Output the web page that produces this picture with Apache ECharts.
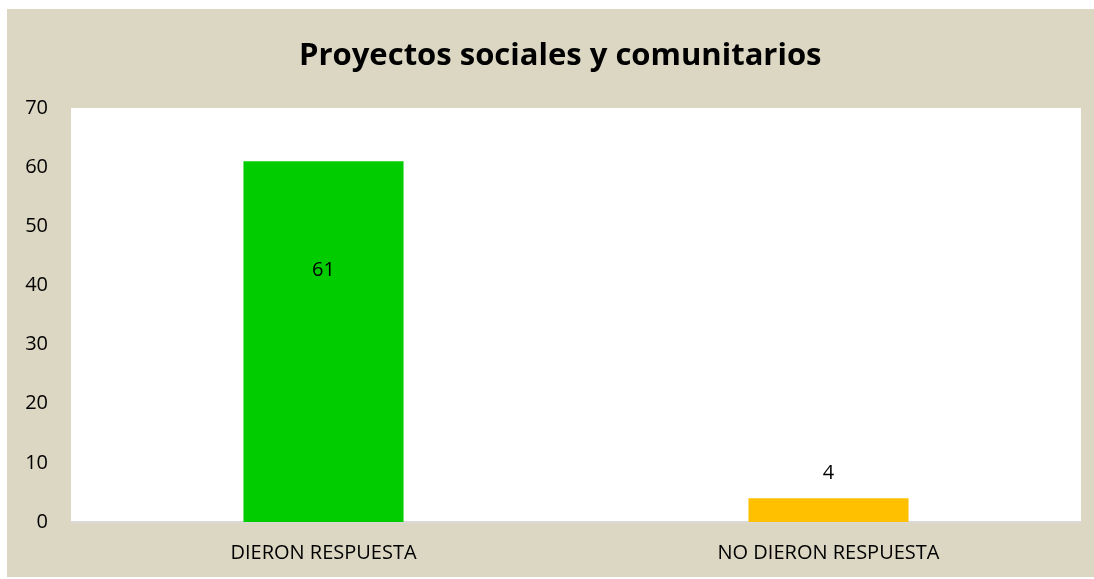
<!DOCTYPE html>
<html>
<head>
<meta charset="utf-8">
<script src="https://cdn.jsdelivr.net/npm/echarts@6/dist/echarts.min.js"></script>
<style>
  html, body { margin: 0; padding: 0; background: #ffffff; }
  #chart { position: absolute; left: 7px; top: 9px; width: 1087px; height: 568px; }
</style>
</head>
<body>
<div id="chart"></div>
<script>
// datos
const categorias = ['DIERON RESPUESTA', 'NO DIERON RESPUESTA'];
const valores = [61, 4];
const colores = ['#00cc00', '#ffc000'];

const myChart = echarts.init(document.getElementById('chart'));

const option = {
  backgroundColor: '#dbd7c3',
  animation: false,
  title: {
    text: 'Proyectos sociales y comunitarios',
    left: 287,
    top: 27,
    textStyle: {
      fontFamily: 'Open Sans',
      fontSize: 31,
      fontWeight: 'bold',
      color: '#000000',
    },
  },
  grid: {
    left: 64,
    right: 13,
    top: 99,
    bottom: 55,
    show: true,
    backgroundColor: '#ffffff',
    borderWidth: 0,
  },
  xAxis: {
    type: 'category',
    data: categorias,
    axisLine: { lineStyle: { color: '#d9d9d9', width: 2 } },
    axisTick: { show: false },
    axisLabel: {
      color: '#000000',
      fontFamily: 'Open Sans',
      fontSize: 20,
      margin: 21,
    },
  },
  yAxis: {
    type: 'value',
    min: 0,
    max: 70,
    interval: 10,
    splitLine: { show: false },
    axisLine: { show: false },
    axisTick: { show: false },
    axisLabel: {
      color: '#000000',
      fontFamily: 'Open Sans',
      fontSize: 20,
      margin: 23,
    },
  },
  series: [
    {
      type: 'bar',
      barWidth: '31.7%',
      data: valores.map((v, i) => ({
        value: v,
        itemStyle: { color: colores[i] },
        label: i === 0
          ? { position: 'insideTop', distance: 99 }
          : { position: 'top', distance: 15 },
      })),
      label: {
        show: true,
        color: '#000000',
        fontFamily: 'Open Sans',
        fontSize: 20,
      },
    },
  ],
};

myChart.setOption(option);
window.addEventListener('resize', () => myChart.resize());
</script>
</body>
</html>
